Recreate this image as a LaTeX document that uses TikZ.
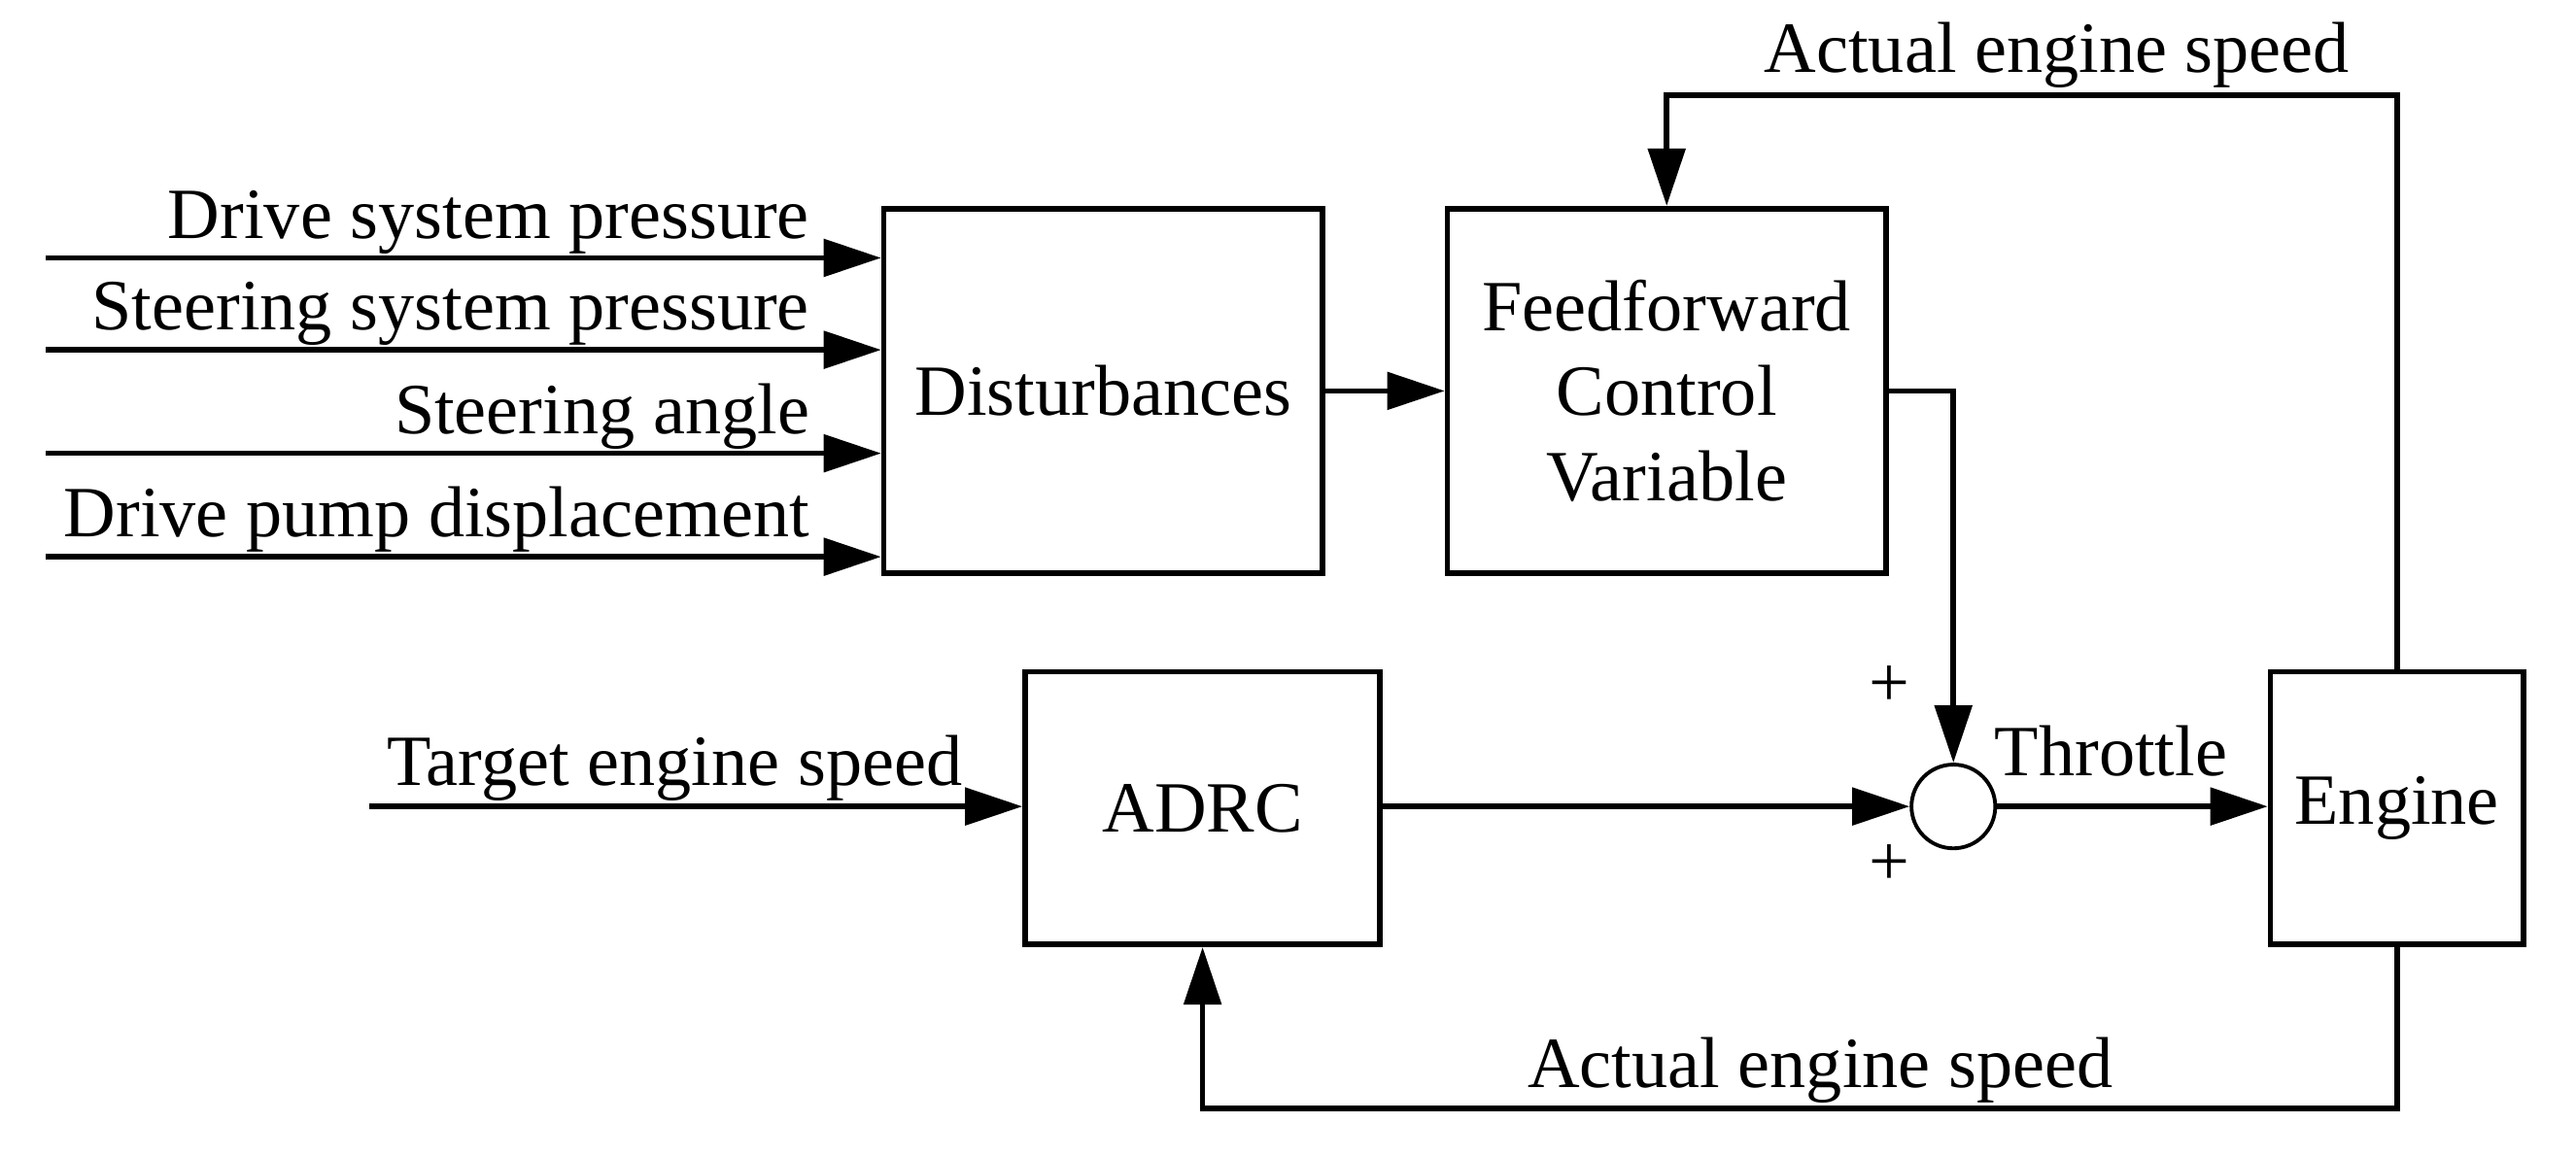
\documentclass[tikz,border=0pt]{standalone}
\usepackage{fontspec}
\setmainfont{Liberation Serif}
\usetikzlibrary{arrows.meta}
\begin{document}
\begin{tikzpicture}[x=0.02cm,y=-0.02cm,
  box/.style={draw,line width=1.9pt,minimum width=0,inner sep=0},
  ln/.style={line width=1.9pt},
  ar/.style={ln,-{Triangle[length=0.7cm,width=0.45cm]}},
  lbl/.style={font=\fontsize{25}{28}\selectfont,inner sep=0}]
\useasboundingbox (0,0) rectangle (1568,704);
\node[box,minimum width=5.34cm,minimum height=4.44cm] (dist) at (671.5,238) {};
\node[lbl] at (dist) {Disturbances};
\node[box,minimum width=5.34cm,minimum height=4.44cm] (ff) at (1014.5,238) {};
\node[lbl,align=center,font=\fontsize{25}{29.5}\selectfont] at (ff) {Feedforward\\Control\\Variable};
\node[box,minimum width=4.32cm,minimum height=3.32cm] (adrc) at (732,492) {};
\node[lbl] at (adrc) {ADRC};
\node[box,minimum width=3.08cm,minimum height=3.32cm] (eng) at (1459,492) {};
\node[lbl] at (eng) {Engine};
\node[draw,circle,line width=1.3pt,minimum size=1.02cm,inner sep=0] (sum) at (1189,491) {};
\foreach \y/\t [count=\i] in {157/Drive system pressure,213/Steering system pressure,276/Steering angle,339/Drive pump displacement}{
  \coordinate (s\i) at (28,\y);
  \draw[ar] (s\i) -- (dist.west |- s\i);
  \node[lbl,anchor=base east] at (493,\y-12) {\t};
}
\coordinate (t0) at (225,491);
\draw[ar] (t0) -- (adrc.west |- t0);
\node[lbl,anchor=base east] at (586,478) {Target engine speed};
\draw[ar] (dist.east |- 0,238) -- (ff.west |- 0,238);
\draw[ar] (ff.east |- 0,238) -| (sum.north);
\draw[ar] (adrc.east |- sum) -- (sum.west);
\draw[ar] (sum.east) -- (eng.west |- sum);
\node[lbl,anchor=base] at (1285,472) {Throttle};
\node[lbl] at (1150,418) {+};
\node[lbl] at (1150,527) {+};
\coordinate (tp) at (1459,58);
\draw[ar] (eng.north) -- (tp) -| (ff.north);
\node[lbl,anchor=base] at (1252,44) {Actual engine speed};
\coordinate (bt) at (1459,675);
\draw[ar] (eng.south) -- (bt) -| (adrc.south);
\node[lbl,anchor=base] at (1108,662) {Actual engine speed};
\end{tikzpicture}
\end{document}
